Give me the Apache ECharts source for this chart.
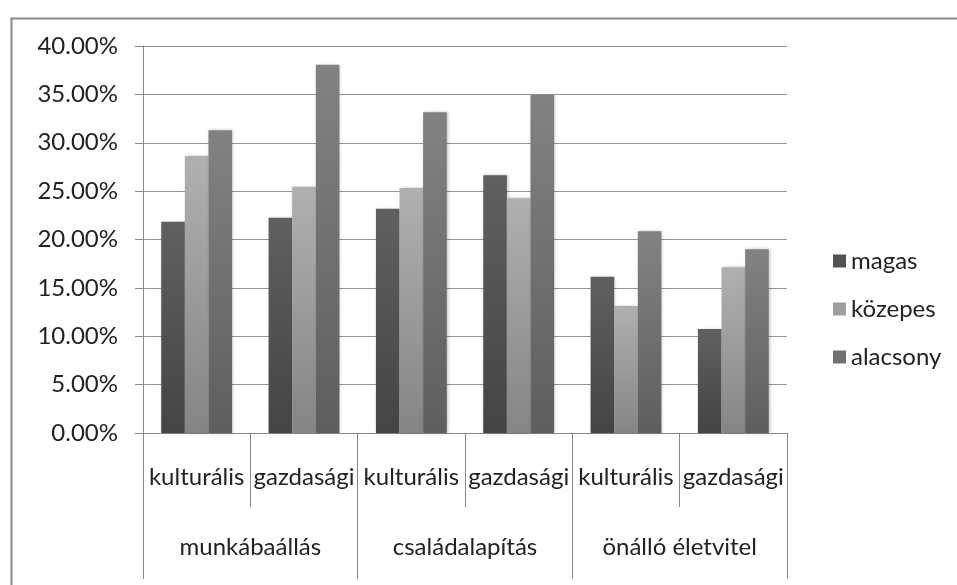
<!DOCTYPE html>
<html>
<head>
<meta charset="utf-8">
<script src="https://cdn.jsdelivr.net/npm/echarts@6/dist/echarts.min.js"></script>
<style>html,body{margin:0;padding:0;background:#fff;}#c{width:957px;height:585px;}</style>
</head>
<body>
<div id="c"></div>
<script>
const subCategories = ['kulturális','gazdasági','kulturális','gazdasági','kulturális','gazdasági'];
const groupCategories = ['munkábaállás','családalapítás','önálló életvitel'];
const seriesNames = ['magas','közepes','alacsony'];
const magas =    [0.2184, 0.2225, 0.2319, 0.2663, 0.1616, 0.1075];
const kozepes =  [0.2863, 0.2546, 0.2532, 0.2426, 0.1313, 0.1713];
const alacsony = [0.3128, 0.3807, 0.3314, 0.3494, 0.2085, 0.1899];
const yTicks = { min: 0, max: 0.4, interval: 0.05 };

const FONT = 'Lato';
const FS = 24;
const TXT = '#222222';
function grad(top, bottom){
  return new echarts.graphic.LinearGradient(0,0,0,1,[{offset:0,color:top},{offset:1,color:bottom}]);
}
const fills = [grad('#606060','#444444'), grad('#b0b0b0','#858585'), grad('#828282','#5e5e5e')];
const solid = ['#525252','#9e9e9e','#717171'];
const values = [magas, kozepes, alacsony];

const chart = echarts.init(document.getElementById('c'), null, {renderer:'canvas'});
chart.setOption({
  animation:false,
  backgroundColor:'#ffffff',
  graphic:[{type:'rect', left:9, top:16, shape:{x:0,y:0,width:1000,height:700},
    style:{fill:'none', stroke:'#8a8a8a', lineWidth:2}, silent:true, z:-1}],
  grid:{left:143, right:170, top:46, bottom:152, containLabel:false},
  legend:{
    orient:'vertical', left:828, top:244, itemWidth:13, itemHeight:13, itemGap:24,
    icon:'rect',
    textStyle:{fontFamily:FONT, fontSize:FS, color:TXT, lineHeight:24, padding:[0,0,0,0]},
    data: seriesNames.map((n,i)=>({name:n, itemStyle:{color:solid[i]}}))
  },
  xAxis:[{
    type:'category', data:subCategories, position:'bottom',
    axisLine:{show:true, lineStyle:{color:'#888888', width:1}},
    axisTick:{show:true, interval:0, length:74, lineStyle:{color:'#888888'}},
    axisLabel:{interval:0, margin:32, fontFamily:FONT, fontSize:FS, color:TXT},
    splitLine:{show:false}
  },{
    type:'category', data:groupCategories, position:'bottom',
    axisLine:{show:false},
    axisTick:{show:true, interval:0, length:146, lineStyle:{color:'#888888'}},
    axisLabel:{interval:0, margin:102, fontFamily:FONT, fontSize:FS, color:TXT},
    splitLine:{show:false}
  }],
  yAxis:{
    type:'value', min:yTicks.min, max:yTicks.max, interval:yTicks.interval,
    axisLine:{show:true, lineStyle:{color:'#888888'}},
    axisTick:{show:true, length:8, lineStyle:{color:'#888888'}},
    axisLabel:{margin:25, fontFamily:FONT, fontSize:FS, color:TXT,
      formatter:v=>(v*100).toFixed(2)+'%'},
    splitLine:{show:true, lineStyle:{color:'#959595', width:1}}
  },
  series: seriesNames.map((n,i)=>({
    name:n, type:'bar', xAxisIndex:0, data:values[i],
    barGap:'0%', barCategoryGap:'34%',
    itemStyle:{color:fills[i], shadowBlur:3, shadowColor:'rgba(0,0,0,0.25)', shadowOffsetX:1, shadowOffsetY:0}
  }))
});
</script>
</body>
</html>
